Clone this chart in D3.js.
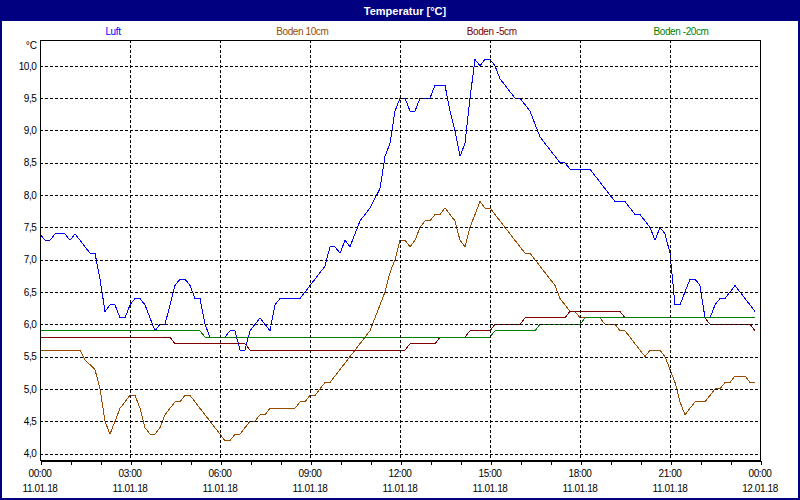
<!DOCTYPE html>
<html>
<head>
<meta charset="utf-8">
<script src="https://cdn.jsdelivr.net/npm/d3@7"></script>
<style>
  html, body { margin: 0; padding: 0; background: #fff; }
  svg { display: block; }
  text { font-family: "Liberation Sans", Arial, sans-serif; }
</style>
</head>
<body>
<svg id="chart" width="800" height="500"></svg>
<script>
// ---------------- data ----------------
const titleText = "Temperatur [°C]";
const unitLabel = "°C";
const seriesNames = ["Luft", "Boden 10cm", "Boden -5cm", "Boden -20cm"];
const seriesColors = ["#0000ff", "#994c00", "#800000", "#008000"];
const yTickValues = [4.0, 4.5, 5.0, 5.5, 6.0, 6.5, 7.0, 7.5, 8.0, 8.5, 9.0, 9.5, 10.0];
const xStart = "2018-01-11T00:00:00Z";
const xEnd = "2018-01-12T00:00:00Z";

const luft = [
  ["00:00",7.4],["00:10",7.3],["00:20",7.3],["00:30",7.4],["00:50",7.4],["01:00",7.3],["01:10",7.4],
  ["01:40",7.1],["01:50",7.1],["02:00",6.7],["02:10",6.2],["02:20",6.3],["02:30",6.3],["02:40",6.1],
  ["02:50",6.1],["03:00",6.3],["03:10",6.4],["03:20",6.4],["03:30",6.3],["03:50",5.9],["04:00",6.0],
  ["04:10",6.0],["04:30",6.6],["04:40",6.7],["04:50",6.7],["05:00",6.6],["05:10",6.4],["05:20",6.4],
  ["05:30",6.0],["05:40",5.8],["06:10",5.8],["06:20",5.9],["06:30",5.9],["06:40",5.6],["06:50",5.6],
  ["07:00",5.9],["07:10",6.0],["07:20",6.1],["07:30",6.0],["07:40",5.9],["07:50",6.3],["08:00",6.4],
  ["08:40",6.4],["09:30",6.9],["09:40",7.2],["09:50",7.2],["10:00",7.1],["10:10",7.3],["10:20",7.2],
  ["10:40",7.6],["11:00",7.8],["11:20",8.1],["11:30",8.6],["11:40",8.8],["11:50",9.3],["12:00",9.5],
  ["12:10",9.5],["12:20",9.3],["12:30",9.3],["12:40",9.5],["13:00",9.5],["13:10",9.7],["13:30",9.7],
  ["13:40",9.3],["13:50",9.0],["14:00",8.6],["14:10",8.8],["14:20",9.5],["14:30",10.1],["14:40",10.0],
  ["14:50",10.1],["15:00",10.1],["15:10",10.0],["15:20",9.8],["15:30",9.7],["15:50",9.5],["16:00",9.5],
  ["16:20",9.3],["16:40",8.9],["17:00",8.7],["17:20",8.5],["17:30",8.5],["17:40",8.4],["18:20",8.4],
  ["18:40",8.2],["19:00",8.0],["19:10",7.9],["19:30",7.9],["19:50",7.7],["20:00",7.7],["20:20",7.5],
  ["20:30",7.3],["20:40",7.5],["20:50",7.4],["21:00",7.1],["21:10",6.3],["21:20",6.3],["21:30",6.5],
  ["21:40",6.7],["21:50",6.7],["22:00",6.6],["22:10",6.1],["22:20",6.1],["22:30",6.3],["22:40",6.4],
  ["22:50",6.4],["23:00",6.5],["23:10",6.6],["23:20",6.5],["23:30",6.4],["23:40",6.3],["23:50",6.2]
];

const boden10 = [
  ["00:00",5.6],["01:20",5.6],["01:30",5.45],["01:50",5.3],["02:00",5.0],["02:10",4.5],["02:20",4.3],
  ["02:30",4.5],["02:40",4.7],["02:50",4.8],["03:00",4.9],["03:10",4.9],["03:20",4.7],["03:30",4.4],
  ["03:40",4.3],["03:50",4.3],["04:00",4.4],["04:10",4.6],["04:20",4.7],["04:30",4.8],["04:40",4.8],
  ["04:50",4.9],["05:00",4.9],["05:10",4.8],["05:20",4.7],["05:40",4.5],["06:00",4.3],["06:10",4.2],
  ["06:20",4.2],["06:30",4.3],["06:40",4.3],["06:50",4.4],["07:00",4.5],["07:10",4.5],["07:20",4.6],
  ["07:30",4.6],["07:40",4.7],["08:30",4.7],["08:40",4.8],["08:50",4.8],["09:00",4.9],["09:10",4.9],
  ["09:20",5.0],["09:30",5.1],["09:40",5.1],["09:50",5.2],["10:00",5.3],["10:10",5.4],["10:20",5.5],
  ["10:30",5.6],["10:40",5.7],["10:50",5.8],["11:00",5.9],["11:20",6.3],["11:30",6.5],["11:40",6.8],
  ["11:50",7.0],["12:00",7.3],["12:10",7.3],["12:20",7.2],["12:30",7.3],["12:40",7.5],["12:50",7.6],
  ["13:00",7.6],["13:10",7.7],["13:20",7.7],["13:30",7.8],["13:40",7.7],["13:50",7.6],["14:00",7.3],
  ["14:10",7.2],["14:20",7.5],["14:30",7.7],["14:40",7.9],["14:50",7.8],["15:00",7.8],["15:10",7.7],
  ["15:30",7.5],["15:50",7.3],["16:10",7.1],["16:20",7.1],["16:30",7.0],["16:50",6.8],["17:10",6.6],
  ["17:20",6.4],["17:30",6.3],["17:40",6.2],["17:50",6.2],["18:00",6.1],["18:40",6.1],["18:50",6.0],
  ["19:10",6.0],["19:20",5.9],["19:30",5.9],["19:50",5.7],["20:10",5.5],["20:20",5.6],["20:40",5.6],
  ["20:50",5.5],["21:00",5.3],["21:10",5.1],["21:20",4.8],["21:30",4.6],["21:40",4.7],["21:50",4.8],
  ["22:10",4.8],["22:30",5.0],["22:40",5.0],["22:50",5.1],["23:00",5.1],["23:10",5.2],["23:30",5.2],
  ["23:40",5.1],["23:50",5.1]
];

const bodenMinus5 = [
  ["00:00",5.8],["04:20",5.8],["04:30",5.7],["06:50",5.7],["07:00",5.6],["12:10",5.6],["12:20",5.7],
  ["13:10",5.7],["13:20",5.8],["14:10",5.8],["14:20",5.9],["15:00",5.9],["15:10",6.0],["16:00",6.0],
  ["16:10",6.1],["17:30",6.1],["17:40",6.2],["19:20",6.2],["19:30",6.1],["22:10",6.1],["22:20",6.0],
  ["23:40",6.0],["23:50",5.9]
];

const bodenMinus20 = [
  ["00:00",5.9],["05:20",5.9],["05:30",5.8],["15:00",5.8],["15:10",5.9],["16:30",5.9],["16:40",6.0],
  ["18:00",6.0],["18:10",6.1],["23:50",6.1]
];

const allSeries = [luft, boden10, bodenMinus5, bodenMinus20];

// ---------------- drawing ----------------
const W = 800, H = 500;
const m = { left: 40, top: 40, right: 40, bottom: 40 };
const svg = d3.select("#chart");

const parseT = t => {
  const [h, mm] = t.split(":").map(Number);
  return new Date(Date.UTC(2018, 0, 11, h, mm));
};

const x = d3.scaleUtc().domain([new Date(xStart), new Date(xEnd)]).range([m.left, W - m.right]);
const y = d3.scaleLinear().domain([3.9, 10.4]).range([H - m.bottom, m.top]);

// outer frame + title bar
svg.append("rect").attr("x", 0).attr("y", 0).attr("width", W).attr("height", H).attr("fill", "#fff");
svg.append("rect").attr("x", 0).attr("y", 0).attr("width", W).attr("height", 21).attr("fill", "#000080");
svg.append("rect").attr("x", 1).attr("y", 1).attr("width", W - 2).attr("height", H - 2)
  .attr("fill", "none").attr("stroke", "#000080").attr("stroke-width", 2);

svg.append("text").attr("x", 405).attr("y", 14.5).attr("text-anchor", "middle")
  .attr("fill", "#fff").attr("font-size", 11).attr("font-weight", "bold").text(titleText);

// legend
const legendX = d3.scalePoint().domain(seriesNames).range([113, 681]);
svg.append("g").selectAll("text").data(seriesNames).join("text")
  .attr("x", d => legendX(d)).attr("y", 34.5).attr("text-anchor", "middle")
  .attr("font-size", 10).attr("letter-spacing", "-0.4px")
  .attr("fill", (d, i) => seriesColors[i]).text(d => d);

// data lines
const line = d3.line().x(d => x(parseT(d[0]))).y(d => y(d[1]));
svg.append("g").selectAll("path").data(allSeries).join("path")
  .attr("d", line).attr("fill", "none")
  .attr("stroke", (d, i) => seriesColors[i]).attr("stroke-width", 1)
  .attr("shape-rendering", "crispEdges");

// grid (on top of lines, as in the original)
const grid = svg.append("g").attr("stroke", "#000").attr("stroke-dasharray", "3,2")
  .attr("shape-rendering", "crispEdges");
grid.selectAll("line.h").data(yTickValues).join("line").attr("class", "h")
  .attr("x1", m.left).attr("x2", W - m.right)
  .attr("y1", d => Math.round(y(d)) + 0.5).attr("y2", d => Math.round(y(d)) + 0.5);
const vTicks = x.ticks(d3.utcHour.every(3)).filter(d => +d !== +x.domain()[0] && +d !== +x.domain()[1]);
grid.selectAll("line.v").data(vTicks).join("line").attr("class", "v")
  .attr("x1", d => Math.round(x(d)) + 0.5).attr("x2", d => Math.round(x(d)) + 0.5)
  .attr("y1", m.top).attr("y2", H - m.bottom);

// plot box
svg.append("rect").attr("x", m.left + 0.5).attr("y", m.top + 0.5)
  .attr("width", W - m.left - m.right).attr("height", H - m.top - m.bottom)
  .attr("fill", "none").attr("stroke", "#000").attr("shape-rendering", "crispEdges");

// x axis ticks (hourly)
const xAxis = svg.append("g").attr("transform", `translate(0.5,${H - m.bottom + 0.5})`)
  .call(d3.axisBottom(x).ticks(d3.utcHour.every(1)).tickSize(4).tickSizeOuter(0).tickFormat(() => ""));
xAxis.select(".domain").attr("shape-rendering", "crispEdges");
xAxis.selectAll("line").attr("shape-rendering", "crispEdges");

// x labels (two lines)
const fmtTime = d3.utcFormat("%H:%M");
const fmtDate = d3.utcFormat("%d.%m.%y");
const xLabels = svg.append("g").attr("font-size", 10).attr("letter-spacing", "-0.4px")
  .attr("fill", "#000").attr("text-anchor", "middle");
const labelTicks = x.ticks(d3.utcHour.every(3));
xLabels.selectAll("text.t").data(labelTicks).join("text").attr("class", "t")
  .attr("x", d => x(d)).attr("y", 477).text(fmtTime);
xLabels.selectAll("text.d").data(labelTicks).join("text").attr("class", "d")
  .attr("x", d => x(d)).attr("y", 492).text(fmtDate);

// y axis labels
const yAxis = svg.append("g").attr("transform", `translate(${m.left + 0.5},0)`)
  .call(d3.axisLeft(y).tickValues(yTickValues).tickSize(0).tickSizeOuter(0).tickPadding(4)
    .tickFormat(d => d.toFixed(1).replace(".", ",")));
yAxis.select(".domain").remove();
yAxis.selectAll("text").attr("font-family", "Liberation Sans, Arial, sans-serif")
  .attr("font-size", 10).attr("letter-spacing", "-0.4px").attr("fill", "#000");

svg.append("text").attr("x", 37).attr("y", 49).attr("text-anchor", "end")
  .attr("font-size", 10).attr("fill", "#000").text(unitLabel);
</script>
</body>
</html>
